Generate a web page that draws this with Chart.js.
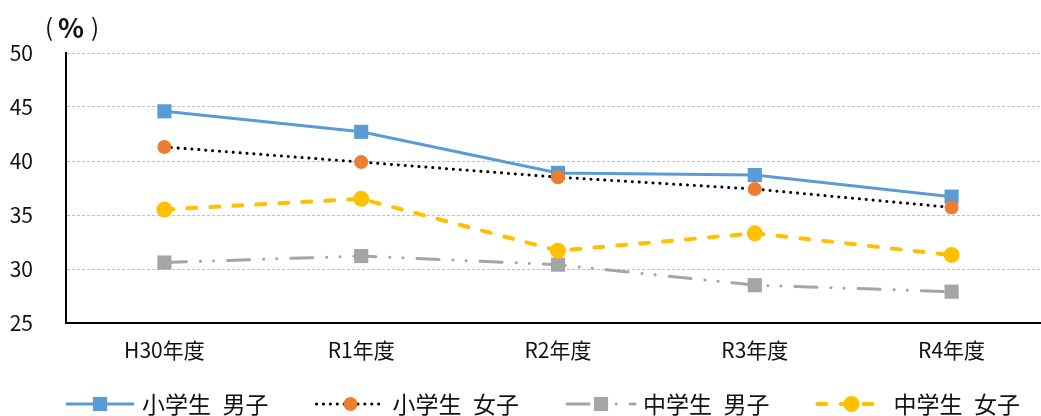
<!DOCTYPE html>
<html lang="ja">
<head>
<meta charset="UTF-8">
<title>体力調査 推移</title>
<script src="https://cdn.jsdelivr.net/npm/chart.js@4"></script>
<style>
    body {
        margin: 0;
        background: #ffffff;
        overflow: hidden;
    }
    .chart-box {
        position: relative;
        width: 1060px;
        height: 416px;
    }
</style>
</head>
<body>
<div class="chart-box">
    <canvas id="trendChart"></canvas>
</div>
<script>
// 年度ごとの割合（%）
const years = ['H30年度', 'R1年度', 'R2年度', 'R3年度', 'R4年度'];
const elemBoys = [44.6, 42.7, 38.9, 38.7, 36.7];
const elemGirls = [41.3, 39.9, 38.5, 37.4, 35.7];
const juniorBoys = [30.6, 31.2, 30.4, 28.5, 27.9];
const juniorGirls = [35.5, 36.5, 31.7, 33.3, 31.3];
const seriesNames = ['小学生\u2002男子', '小学生\u2002女子', '中学生\u2002男子', '中学生\u2002女子'];
const yTicks = [25, 30, 35, 40, 45, 50];

const FONT = '"Noto Sans CJK JP", "Noto Sans", sans-serif';
const TEXT = '#111111';

// bottom legend: line sample + marker, then the series name
const lineLegend = {
    id: 'lineLegend',
    afterDraw(chart) {
        const ctx = chart.ctx;
        const left = chart.chartArea.left;
        const y = 404;
        chart.data.datasets.forEach((ds, i) => {
            const x0 = left + i * 250.5;
            ctx.save();
            ctx.strokeStyle = ds.borderColor;
            ctx.lineWidth = ds.borderWidth;
            ctx.lineCap = ds.borderCapStyle || 'butt';
            ctx.setLineDash(ds.borderDash || []);
            ctx.beginPath();
            ctx.moveTo(x0, y);
            ctx.lineTo(x0 + 68, y);
            ctx.stroke();
            ctx.setLineDash([]);
            ctx.fillStyle = ds.pointBackgroundColor;
            ctx.strokeStyle = ds.pointBackgroundColor;
            Chart.helpers.drawPoint(ctx, {
                pointStyle: ds.pointStyle,
                radius: ds.pointRadius,
                rotation: 0,
                borderWidth: 0
            }, x0 + 34, y);
            ctx.fillStyle = TEXT;
            ctx.font = '23px ' + FONT;
            ctx.textAlign = 'left';
            ctx.textBaseline = 'middle';
            ctx.fillText(ds.label, x0 + 76, y);
            ctx.restore();
        });

        // unit label above the y axis: thin parens, heavy percent sign
        ctx.save();
        ctx.fillStyle = TEXT;
        ctx.textBaseline = 'middle';
        ctx.font = '24px ' + FONT;
        ctx.textAlign = 'left';
        ctx.fillText('(', 45, 27);
        ctx.textAlign = 'right';
        ctx.fillText(')', 99, 27);
        ctx.font = 'bold 27px ' + FONT;
        ctx.textAlign = 'center';
        ctx.fillText('%', 71, 28);
        ctx.restore();
    }
};

new Chart(document.getElementById('trendChart'), {
    type: 'line',
    data: {
        labels: years,
        datasets: [
            {
                label: seriesNames[0],
                data: elemBoys,
                borderColor: '#5b9bd5',
                borderWidth: 3,
                pointStyle: 'rect',
                pointRadius: 10,
                pointBackgroundColor: '#5b9bd5',
                pointBorderWidth: 0,
                order: 3
            },
            {
                label: seriesNames[1],
                data: elemGirls,
                borderColor: '#000000',
                borderWidth: 3,
                borderDash: [0.1, 6.8],
                borderCapStyle: 'round',
                pointStyle: 'circle',
                pointRadius: 7,
                pointBackgroundColor: '#ed7d31',
                pointBorderWidth: 0,
                order: 2
            },
            {
                label: seriesNames[2],
                data: juniorBoys,
                borderColor: '#a5a5a5',
                borderWidth: 3,
                borderDash: [22, 14, 0.1, 13, 0.1, 14],
                borderCapStyle: 'round',
                pointStyle: 'rect',
                pointRadius: 10,
                pointBackgroundColor: '#a5a5a5',
                pointBorderWidth: 0,
                order: 1
            },
            {
                label: seriesNames[3],
                data: juniorGirls,
                borderColor: '#ffc000',
                borderWidth: 4,
                borderDash: [9, 14],
                borderCapStyle: 'round',
                pointStyle: 'circle',
                pointRadius: 8,
                pointBackgroundColor: '#ffc000',
                pointBorderWidth: 0,
                order: 0
            }
        ]
    },
    options: {
        responsive: true,
        maintainAspectRatio: false,
        animation: false,
        events: [],
        layout: {
            padding: { top: 53, right: 4, bottom: 0, left: 0 }
        },
        elements: {
            line: { tension: 0, fill: false }
        },
        plugins: {
            legend: { display: false },
            tooltip: { enabled: false }
        },
        scales: {
            x: {
                offset: true,
                grid: { display: false, drawTicks: false },
                border: { display: true, color: '#000000', width: 2 },
                ticks: {
                    color: TEXT,
                    padding: 14,
                    font: { family: FONT, size: 21 },
                    maxRotation: 0
                },
                afterFit(scale) { scale.height = 93; }
            },
            y: {
                min: 25,
                max: 50,
                afterBuildTicks(scale) {
                    scale.ticks = yTicks.map(v => ({ value: v }));
                },
                grid: {
                    color: '#bfbfbf',
                    lineWidth: 1,
                    drawTicks: false
                },
                border: { display: true, color: '#000000', width: 2, dash: [3, 2] },
                ticks: {
                    color: TEXT,
                    padding: 33,
                    font: { family: FONT, size: 21 }
                },
                afterFit(scale) { scale.width = 66; }
            }
        }
    },
    plugins: [lineLegend]
});
</script>
</body>
</html>
